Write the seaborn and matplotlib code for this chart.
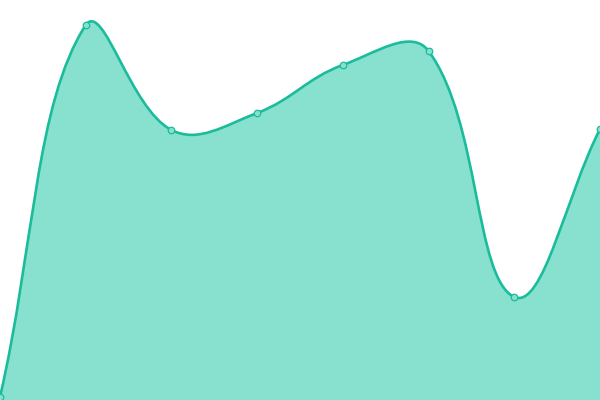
import matplotlib
matplotlib.use("Agg")
import matplotlib.pyplot as plt
from matplotlib.path import Path
from matplotlib.patches import PathPatch
import seaborn as sns
import numpy as np
import pandas as pd

# data
labels = ["A", "B", "C", "D", "E", "F", "G", "H"]
values = [3, 375, 270, 287, 335, 349, 103, 271]

LINE = "#1abc9c"
FILL = "#88e0cf"


def spline_controls(pts, t=0.4, box=None):
    # chart.js-style bezier control points, worked out in pixel space
    n = len(pts)
    ctrl = []
    for i in range(n):
        cur = pts[i]
        prev = pts[i - 1] if i > 0 else cur
        nxt = pts[i + 1] if i < n - 1 else cur
        d01 = np.hypot(*(cur - prev))
        d12 = np.hypot(*(nxt - cur))
        tot = d01 + d12
        s01 = d01 / tot if tot else 0
        s12 = d12 / tot if tot else 0
        before = cur - t * s01 * (nxt - prev)
        after = cur + t * s12 * (nxt - prev)
        if box is not None:
            before = np.clip(before, box[0], box[1])
            after = np.clip(after, box[0], box[1])
        ctrl.append((before, after))
    return ctrl


df = pd.DataFrame({"x": np.arange(len(labels)), "label": labels, "y": values})

fig = plt.figure(figsize=(6, 4), dpi=100)
ax = fig.add_axes([0, 0, 1, 1])
ax.set_xlim(0, len(labels) - 1)
ax.set_ylim(0, 400)
ax.axis("off")

disp = ax.transData.transform(df[["x", "y"]].to_numpy(dtype=float))
lo = ax.transData.transform((0, 0))
hi = ax.transData.transform((len(labels) - 1, 400))
ctrl = spline_controls(disp, box=(lo, hi))

verts = [disp[0]]
codes = [Path.MOVETO]
for i in range(1, len(disp)):
    verts += [ctrl[i - 1][1], ctrl[i][0], disp[i]]
    codes += [Path.CURVE4] * 3
inv = ax.transData.inverted()
verts = inv.transform(np.array(verts))

line_path = Path(verts, codes)
fill_verts = np.vstack([verts, [[len(labels) - 1, 0], [0, 0], [0, 0]]])
fill_codes = codes + [Path.LINETO, Path.LINETO, Path.CLOSEPOLY]
ax.add_patch(PathPatch(Path(fill_verts, fill_codes), facecolor=FILL, edgecolor="none", zorder=1))
ax.add_patch(PathPatch(line_path, facecolor="none", edgecolor=LINE, lw=1.9, zorder=2))

sns.scatterplot(data=df, x="x", y="y", ax=ax, s=22, color=FILL,
                edgecolor=LINE, linewidth=0.9, zorder=3, legend=False)
ax.set_xlim(0, len(labels) - 1)
ax.set_ylim(0, 400)
ax.axis("off")

fig.savefig("out.png", dpi=100)
